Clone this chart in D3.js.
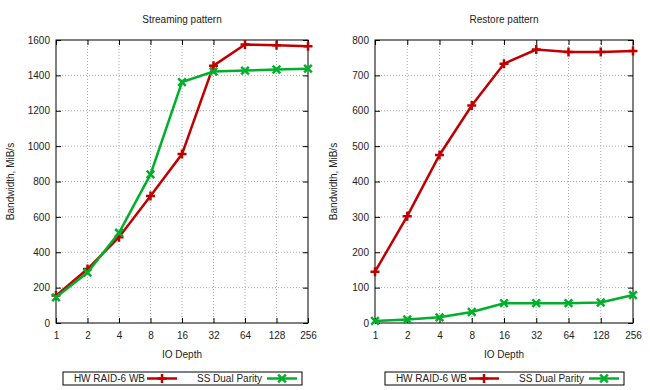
<!DOCTYPE html>
<html><head><meta charset="utf-8">
<script src="https://cdn.jsdelivr.net/npm/d3@7"></script>
<style>body{margin:0;background:#fff}svg{display:block}text{font-family:"Liberation Sans",Arial,sans-serif;font-size:10px;fill:#222}</style>
</head><body><svg id="c" width="650" height="390"></svg>
<script>
const depths = [1, 2, 4, 8, 16, 32, 64, 128, 256];
const seriesNames = ["HW RAID-6 WB", "SS Dual Parity"];
const streamHW = [155, 305, 485, 718, 955, 1455, 1575, 1570, 1565];
const streamSS = [145, 285, 510, 840, 1362, 1422, 1427, 1433, 1438];
const restoreHW = [145, 302, 475, 615, 733, 773, 766, 766, 769];
const restoreSS = [6, 10, 16, 31, 56, 56, 56, 58, 79];
const streamTicks = [0, 200, 400, 600, 800, 1000, 1200, 1400, 1600];
const restoreTicks = [0, 100, 200, 300, 400, 500, 600, 700, 800];
const colors = ["#c00000", "#00b02a"];

const svg = d3.select("#c");
const FONT = '"Liberation Sans",Arial,sans-serif';

function panel(opt) {
  const {x0, x1, y0, y1, title, ticks, ymax, hw, ss, ylabX, legend} = opt;
  const g = svg.append("g");
  const x = d3.scaleLog().base(2).domain([1, 256]).range([x0, x1]);
  const y = d3.scaleLinear().domain([0, ymax]).range([y1, y0]);
  g.selectAll(".gx").data(depths.slice(1, -1)).enter().append("line")
    .attr("x1", d => x(d)).attr("x2", d => x(d)).attr("y1", y0).attr("y2", y1)
    .attr("stroke", "#aaa").attr("stroke-width", 1).attr("stroke-dasharray", "1,2");
  g.selectAll(".gy").data(ticks.slice(1, -1)).enter().append("line")
    .attr("y1", d => y(d)).attr("y2", d => y(d)).attr("x1", x0).attr("x2", x1)
    .attr("stroke", "#aaa").attr("stroke-width", 1).attr("stroke-dasharray", "1,2");
  const ax = g.append("g").attr("transform", `translate(0,${y1})`)
    .call(d3.axisBottom(x).tickValues(depths).tickFormat(d3.format("d")).tickSize(-5).tickPadding(9));
  const axT = g.append("g").attr("transform", `translate(0,${y0})`)
    .call(d3.axisTop(x).tickValues(depths).tickFormat("").tickSize(-5));
  const ay = g.append("g").attr("transform", `translate(${x0},0)`)
    .call(d3.axisLeft(y).tickValues(ticks).tickFormat(d3.format("d")).tickSize(-5).tickPadding(6));
  const ayR = g.append("g").attr("transform", `translate(${x1},0)`)
    .call(d3.axisRight(y).tickValues(ticks).tickFormat("").tickSize(-5));
  [ax, axT, ay, ayR].forEach(a => {
    a.select(".domain").remove();
    a.selectAll("line").attr("stroke", "#000");
    a.selectAll("text").style("font-family", FONT).style("font-size", "10px").attr("fill", "#222");
  });
  g.append("rect").attr("x", x0).attr("y", y0).attr("width", x1 - x0).attr("height", y1 - y0)
    .attr("fill", "none").attr("stroke", "#000").attr("stroke-width", 1);
  g.append("text").attr("x", (x0 + x1) / 2).attr("y", 23).attr("text-anchor", "middle").text(title);
  g.append("text").attr("x", (x0 + x1) / 2).attr("y", 358).attr("text-anchor", "middle").text("IO Depth");
  g.append("text").attr("transform", `translate(${ylabX},${(y0 + y1) / 2}) rotate(-90)`)
    .attr("text-anchor", "middle").text("Bandwidth, MiB/s");
  const line = d3.line().x((d, i) => x(depths[i])).y(d => y(d));
  [hw, ss].forEach((vals, si) => {
    g.append("path").datum(vals).attr("d", line).attr("fill", "none")
      .attr("stroke", colors[si]).attr("stroke-width", 2.5);
    vals.forEach((v, i) => marker(g, x(depths[i]), y(v), si));
  });
  const lg = g.append("g");
  lg.append("rect").attr("x", legend.x).attr("y", 372).attr("width", 239).attr("height", 13)
    .attr("fill", "none").attr("stroke", "#000").attr("stroke-width", 1);
  const items = [{tx: legend.x + 82, lx: legend.x + 84}, {tx: legend.x + 199, lx: legend.x + 204}];
  items.forEach((it, si) => {
    lg.append("text").attr("x", it.tx).attr("y", 382).attr("text-anchor", "end").text(seriesNames[si]);
    lg.append("line").attr("x1", it.lx).attr("x2", it.lx + 30).attr("y1", 378.5).attr("y2", 378.5)
      .attr("stroke", colors[si]).attr("stroke-width", 2.5);
    marker(lg, it.lx + 15, 378.5, si);
  });
}

function marker(g, cx, cy, si) {
  const s = 4.5;
  if (si === 0) {
    g.append("path").attr("d", `M${cx - s},${cy}H${cx + s}M${cx},${cy - s}V${cy + s}`)
      .attr("stroke", colors[0]).attr("stroke-width", 2.5).attr("fill", "none");
  } else {
    const k = 3.8;
    g.append("path").attr("d", `M${cx - k},${cy - k}L${cx + k},${cy + k}M${cx - k},${cy + k}L${cx + k},${cy - k}`)
      .attr("stroke", colors[1]).attr("stroke-width", 2.5).attr("fill", "none");
  }
}

panel({x0: 56, x1: 308, y0: 40, y1: 323, title: "Streaming pattern", ticks: streamTicks, ymax: 1600,
  hw: streamHW, ss: streamSS, ylabX: 14, legend: {x: 63}});
panel({x0: 375, x1: 633, y0: 40, y1: 323, title: "Restore pattern", ticks: restoreTicks, ymax: 800,
  hw: restoreHW, ss: restoreSS, ylabX: 337, legend: {x: 385}});
</script></body></html>
